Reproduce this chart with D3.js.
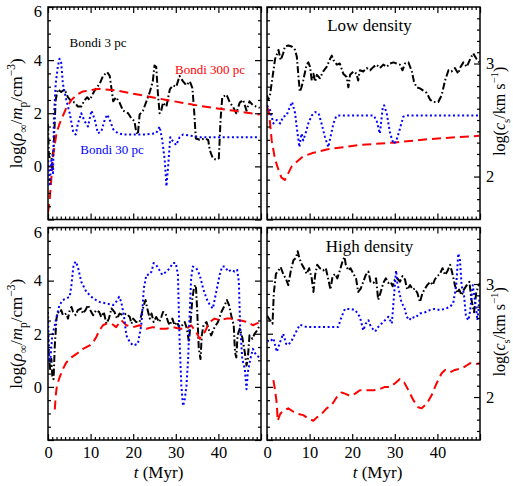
<!DOCTYPE html>
<html><head><meta charset="utf-8">
<script src="https://cdn.jsdelivr.net/npm/d3@7"></script>
<style>
body{margin:0;background:#fff}
svg{display:block}
text{font-family:"Liberation Serif","Times New Roman",serif;fill:#000}
</style>
</head><body>
<svg id="c" width="513" height="486"></svg>
<script>
// ---------------- DATA ----------------
// time (Myr), value pairs. Left panels: log(rho/mp/cm^-3); right panels: log(c_s / km s^-1)
const lowRho3 = [[0,1.6],[0.2,0.4],[0.8,0.25],[1.3,0.6],[1.8,2.5],[2.3,2.9],[3.1,2.8],[3.9,2.9],[4.7,2.6],[5.5,2.45],[6.3,2.4],[7.0,2.25],[7.8,2.25],[8.6,2.5],[9.2,2.6],[9.8,2.5],[10.6,2.75],[11.3,2.95],[12.1,3.1],[12.9,3.4],[13.9,3.55],[14.5,3.4],[15.3,2.45],[16.0,2.6],[16.8,2.4],[17.6,2.1],[18.8,2.0],[19.6,1.8],[20.3,1.7],[20.7,1.3],[21.1,1.2],[21.5,1.95],[22.3,2.1],[23.1,2.45],[23.9,2.8],[24.6,3.2],[25.0,3.8],[25.4,3.75],[25.8,2.75],[26.2,2.0],[26.6,2.1],[27.0,2.4],[27.8,2.25],[28.6,2.9],[29.3,3.05],[30.1,3.0],[30.9,3.4],[31.7,3.2],[32.5,3.05],[33.3,3.2],[33.9,2.95],[34.3,2.1],[34.7,1.05],[35.6,1.0],[36.8,1.05],[37.6,1.0],[38.0,0.6],[38.7,0.3],[39.5,0.25],[40.1,0.3],[40.5,1.75],[40.9,2.6],[41.9,2.7],[42.7,2.4],[43.4,2.25],[44.2,2.0],[45.0,2.4],[45.8,2.5],[46.6,2.1],[47.3,2.45],[48.1,2.3],[48.9,2.25],[49.7,2.2]];
const lowRho300 = [[0,-1.75],[0.4,-1.25],[1.2,0.4],[2.0,1.25],[2.7,1.6],[3.5,1.9],[4.3,2.2],[5.5,2.5],[7.0,2.72],[8.2,2.82],[12.1,2.92],[16.0,2.86],[19.9,2.74],[27.8,2.5],[35.6,2.28],[43.4,2.1],[49.7,1.95]];
const lowRho30 = [[0,0.4],[0.4,-0.75],[0.8,0.25],[1.2,-0.25],[1.4,1.9],[1.8,3.1],[2.3,3.75],[2.7,4.05],[3.1,3.9],[3.5,3.1],[4.3,2.5],[5.1,2.0],[5.9,1.3],[6.5,1.2],[7.0,1.6],[7.8,2.0],[8.6,1.7],[9.4,1.5],[10.2,2.1],[11.0,1.75],[11.7,1.25],[12.5,1.3],[13.3,1.75],[13.9,1.95],[14.5,1.75],[15.3,1.4],[16.4,1.25],[17.6,1.2],[20.0,1.2],[23.1,1.2],[25.4,1.25],[26.2,1.5],[26.8,1.0],[27.4,0.25],[27.8,-0.75],[28.2,0.0],[28.7,1.1],[29.3,0.95],[30.1,0.8],[30.9,1.1],[31.7,1.2],[35.6,1.1],[49.7,1.1]];

const lowCs3 = [[0,2.72],[0.3,2.68],[0.7,2.72],[1.3,2.88],[1.9,3.04],[2.7,3.12],[3.2,3.03],[3.8,3.09],[4.2,3.15],[5.0,3.16],[5.8,3.15],[6.6,3.12],[7.0,3.06],[7.4,2.88],[7.7,2.75],[8.1,2.79],[8.5,2.85],[9.3,2.99],[9.7,3.01],[10.1,2.97],[10.5,2.85],[10.9,2.91],[11.3,2.84],[11.7,2.9],[12.4,2.87],[13.2,2.93],[14.0,2.97],[14.8,3.04],[15.2,3.07],[15.6,3.03],[16.4,2.99],[17.1,3.0],[17.9,2.91],[18.7,2.88],[19.1,2.79],[19.5,2.9],[20.3,2.93],[21.0,2.91],[21.4,2.85],[21.8,2.94],[22.6,2.93],[23.4,2.96],[24.2,2.94],[25.0,2.97],[25.7,2.99],[26.5,2.96],[27.3,2.99],[28.1,2.97],[28.9,3.0],[29.7,3.01],[30.4,3.0],[31.2,2.99],[31.8,2.94],[32.4,3.0],[33.2,3.01],[34.0,2.93],[34.5,2.84],[35.1,2.79],[35.9,2.78],[36.7,2.76],[37.5,2.74],[38.3,2.68],[39.0,2.66],[40.2,2.66],[41.0,2.72],[41.8,2.85],[42.6,2.94],[43.3,2.93],[44.1,2.96],[44.9,2.91],[45.3,2.96],[46.1,3.01],[46.9,2.97],[47.7,3.04],[48.4,3.09],[49.2,3.04],[49.8,3.01]];
const lowCs300 = [[0,2.62],[0.5,2.56],[1.1,2.32],[1.9,2.15],[2.7,2.06],[3.4,1.99],[4.2,1.97],[5.0,2.03],[5.8,2.09],[7.0,2.13],[8.5,2.18],[10.9,2.21],[14.0,2.24],[17.9,2.26],[21.8,2.28],[29.7,2.3],[37.5,2.33],[45.3,2.35],[49.8,2.36]];
const lowCs30 = [[0,2.63],[0.7,2.59],[1.5,2.47],[2.3,2.5],[3.1,2.47],[3.8,2.53],[4.6,2.54],[5.4,2.62],[5.9,2.66],[6.6,2.56],[7.0,2.43],[7.6,2.26],[8.1,2.38],[8.5,2.32],[9.2,2.4],[9.7,2.47],[10.5,2.54],[11.3,2.57],[12.1,2.56],[12.8,2.47],[13.6,2.35],[14.4,2.26],[14.9,2.35],[15.6,2.47],[16.2,2.53],[16.7,2.54],[25.0,2.54],[25.7,2.5],[26.5,2.38],[27.2,2.62],[27.5,2.63],[28.1,2.56],[28.9,2.38],[29.7,2.29],[30.3,2.31],[31.1,2.41],[32.0,2.53],[32.8,2.54],[49.8,2.54]];

const highRho3 = [[0,1.94],[0.2,1.18],[0.5,0.67],[0.8,1.05],[1.0,0.42],[1.3,0.29],[1.6,1.56],[2.0,2.57],[2.3,2.82],[2.7,2.76],[3.1,2.89],[3.5,2.7],[4.3,2.76],[4.7,2.57],[5.1,2.89],[5.5,3.01],[5.9,2.82],[6.5,2.7],[7.0,2.89],[7.8,2.95],[8.2,2.76],[8.8,2.89],[9.4,3.08],[9.9,2.89],[10.6,2.7],[11.3,2.89],[12.0,2.82],[12.5,2.63],[13.1,2.82],[13.7,2.38],[14.3,2.57],[14.9,2.95],[15.6,2.82],[16.2,2.57],[16.8,2.76],[17.6,2.7],[18.4,2.76],[19.2,2.63],[19.6,2.38],[20.0,2.57],[20.7,2.44],[21.5,2.44],[21.9,2.7],[22.5,3.08],[22.9,3.27],[23.3,2.95],[23.9,2.57],[24.3,2.76],[24.8,2.44],[25.4,2.63],[26.1,2.44],[26.6,2.63],[27.0,2.82],[27.6,2.76],[28.2,2.44],[28.6,2.32],[29.2,2.57],[29.7,2.32],[30.3,2.44],[30.9,2.19],[31.5,2.32],[32.1,2.44],[32.6,2.19],[33.1,1.68],[33.4,2.32],[33.9,3.33],[34.3,3.77],[34.7,3.84],[35.0,2.95],[35.4,1.43],[35.8,1.05],[36.1,1.94],[36.5,2.32],[37.2,2.44],[37.8,2.13],[38.3,1.94],[39.1,2.25],[39.9,2.44],[40.7,2.82],[41.5,3.08],[42.0,3.27],[42.5,3.08],[43.0,2.7],[43.6,2.32],[43.9,1.3],[44.2,1.11],[44.5,1.94],[45.0,2.19],[45.6,1.87],[46.2,1.3],[46.6,0.8],[46.9,1.05],[47.3,1.94],[48.0,1.81],[48.5,2.0],[49.1,2.13],[49.7,2.32]];
const highRho300 = [[1.6,-0.85],[1.8,-0.34],[2.1,0.04],[2.7,0.35],[3.5,0.67],[4.3,0.92],[5.5,1.11],[6.7,1.24],[8.2,1.43],[9.8,1.56],[10.6,1.68],[11.3,1.87],[12.1,2.13],[12.9,2.32],[13.7,2.38],[14.9,2.38],[16.0,2.25],[17.2,2.51],[18.4,2.32],[20.0,2.25],[21.5,2.32],[23.1,2.19],[24.6,2.25],[26.2,2.19],[27.8,2.19],[29.3,2.25],[30.9,2.19],[32.5,2.19],[33.6,2.32],[34.8,2.06],[35.6,1.81],[36.8,2.06],[37.9,2.44],[39.1,2.57],[40.3,2.51],[41.9,2.57],[43.4,2.57],[45.0,2.51],[46.9,2.44],[48.1,2.32],[49.7,2.44]];
const highRho30 = [[0,2.82],[0.2,1.3],[0.5,0.92],[1.0,1.94],[1.6,2.32],[2.1,2.7],[2.7,3.08],[3.5,3.27],[4.3,3.33],[5.1,3.39],[5.5,3.84],[6.0,4.59],[6.5,4.72],[7.0,4.53],[7.8,3.96],[9.0,3.58],[10.6,3.33],[12.1,3.2],[13.7,3.14],[15.3,3.08],[16.0,3.2],[16.7,3.39],[17.2,3.2],[17.8,2.7],[18.4,1.94],[19.2,1.68],[20.0,1.56],[21.1,1.62],[21.9,2.32],[22.5,3.71],[23.1,4.22],[23.7,4.22],[24.3,4.34],[24.8,4.66],[25.4,4.59],[26.1,4.41],[26.8,4.22],[27.8,4.34],[28.6,4.47],[29.3,4.66],[30.0,4.66],[30.5,4.22],[30.9,1.68],[31.3,0.04],[31.7,-0.72],[32.1,-0.47],[32.5,0.04],[32.9,1.05],[33.3,2.95],[33.6,4.09],[34.0,4.53],[34.8,4.47],[35.6,4.22],[36.4,3.71],[37.2,3.33],[38.0,3.08],[38.7,2.95],[39.5,3.58],[40.3,4.22],[40.9,4.53],[41.5,4.53],[42.3,4.34],[43.0,4.41],[43.8,4.34],[44.4,4.41],[44.8,3.96],[45.1,2.32],[45.6,1.05],[46.2,0.67],[46.6,-0.09],[46.9,0.54],[47.5,1.05],[48.1,1.43],[48.9,1.18],[49.7,1.11]];

const highCs3 = [[0,2.72],[0.7,2.68],[1.3,2.65],[1.6,2.92],[2.1,3.09],[2.7,3.12],[3.2,3.15],[3.8,3.09],[4.5,3.04],[5.0,2.99],[5.6,3.12],[6.2,3.21],[6.8,3.23],[7.2,3.29],[7.6,3.23],[8.1,3.18],[8.7,3.14],[9.3,3.09],[9.9,3.14],[10.5,3.05],[10.9,2.93],[11.3,3.08],[11.8,3.17],[12.4,3.14],[13.2,3.12],[13.8,3.14],[14.4,3.04],[14.9,2.95],[15.4,3.07],[16.0,3.09],[16.5,3.05],[17.1,3.12],[17.8,3.21],[18.2,3.24],[18.5,3.17],[19.1,3.12],[19.6,3.14],[20.3,3.09],[20.9,3.05],[21.4,2.93],[22.0,2.96],[22.6,3.02],[23.2,3.08],[23.8,3.11],[24.3,3.02],[25.0,3.01],[25.6,3.05],[26.1,2.86],[26.7,2.93],[27.3,3.01],[27.9,3.05],[28.5,3.01],[29.0,3.02],[29.5,2.98],[30.0,3.04],[30.6,3.05],[31.2,3.02],[31.8,3.07],[32.4,3.04],[32.9,2.95],[33.6,2.99],[34.2,2.95],[34.7,2.96],[35.3,2.92],[35.9,2.84],[36.5,2.92],[37.1,2.96],[37.6,2.99],[38.3,3.02],[38.9,2.99],[39.4,3.04],[40.0,3.07],[40.6,3.09],[41.2,3.14],[41.8,3.08],[42.3,3.11],[43.0,3.17],[43.6,3.08],[44.1,2.99],[44.7,2.92],[45.1,2.95],[45.7,2.9],[46.2,2.95],[46.9,2.99],[47.5,3.02],[48.0,2.86],[48.6,2.75],[49.1,2.92],[49.6,2.98],[50.0,3.01]];
const highCs300 = [[1.5,2.15],[1.9,2.06],[2.3,1.94],[2.5,1.79],[3.1,1.85],[3.8,1.88],[5.0,1.9],[6.2,1.87],[7.4,1.85],[8.5,1.84],[9.7,1.81],[10.9,1.79],[11.7,1.82],[12.8,1.85],[14.0,1.9],[15.2,1.93],[16.4,2.0],[17.5,2.04],[18.3,2.03],[19.5,2.01],[20.7,2.03],[21.8,2.06],[23.4,2.06],[25.0,2.06],[26.5,2.07],[27.7,2.09],[28.9,2.09],[30.0,2.12],[31.2,2.16],[32.2,2.13],[33.2,2.06],[34.4,1.97],[35.5,1.91],[36.3,1.9],[37.5,1.94],[38.7,2.02],[39.8,2.12],[41.0,2.21],[41.8,2.24],[43.0,2.22],[44.1,2.24],[45.3,2.25],[46.5,2.27],[47.7,2.3],[48.8,2.29],[50.0,2.3]];
const highCs30 = [[0,2.5],[0.7,2.49],[1.5,2.52],[2.3,2.4],[3.1,2.49],[3.8,2.56],[4.5,2.47],[5.0,2.46],[5.8,2.5],[6.6,2.56],[7.7,2.64],[9.3,2.62],[14.0,2.62],[16.7,2.62],[17.5,2.71],[18.3,2.78],[19.5,2.78],[20.7,2.77],[21.8,2.71],[22.6,2.59],[23.2,2.65],[23.8,2.68],[24.4,2.62],[25.4,2.58],[26.1,2.62],[26.9,2.65],[27.7,2.68],[28.5,2.71],[29.3,2.65],[29.8,2.89],[30.3,3.12],[30.6,3.01],[31.1,2.92],[31.6,2.83],[32.2,2.8],[32.8,2.71],[33.4,2.68],[34.0,2.71],[34.7,2.7],[35.9,2.74],[37.1,2.75],[38.3,2.77],[39.4,2.78],[40.6,2.77],[41.8,2.78],[43.0,2.8],[43.7,2.83],[44.4,2.98],[44.9,3.27],[45.3,3.21],[45.7,2.98],[46.2,2.92],[46.7,2.71],[47.3,2.68],[47.7,2.77],[48.3,2.99],[48.8,2.86],[49.4,2.68],[50.0,2.92]];

const xTickLabels = [0, 10, 20, 30, 40];
const rhoTickLabels = [0, 2, 4, 6];
const csTickLabels = [2, 3];
const seriesNames = ["Bondi 3 pc", "Bondi 300 pc", "Bondi 30 pc"];
const panelTitles = ["Low density", "High density"];

// ---------------- LAYOUT ----------------
const svg = d3.select("#c");
const PW = 213, PH = 212.5;
const colsX = [48, 267], rowsY = [7, 227.5];
const styles = {
  black: {stroke:"#000", dash:"7,2.5,1.6,2.5"},
  red:   {stroke:"#ff0000", dash:"9,5"},
  blue:  {stroke:"#0000ff", dash:"2,2.6"}
};
const panels = [
  {c:0,r:0,right:false,series:[[lowRho3,"black"],[lowRho300,"red"],[lowRho30,"blue"]]},
  {c:1,r:0,right:true, series:[[lowCs3,"black"],[lowCs300,"red"],[lowCs30,"blue"]]},
  {c:0,r:1,right:false,series:[[highRho3,"black"],[highRho300,"red"],[highRho30,"blue"]]},
  {c:1,r:1,right:true, series:[[highCs3,"black"],[highCs300,"red"],[highCs30,"blue"]]}
];

function richText(sel, parts, size){
  let shift = 0;
  parts.forEach(p=>{
    const ts = sel.append("tspan").text(p.t);
    let target = p.sub ? 0.3*size : (p.sup ? -0.42*size : 0);
    ts.attr("dy", target - shift); shift = target;
    if (p.sub || p.sup) ts.attr("font-size", size*0.68);
    if (p.i) ts.attr("font-style","italic");
  });
}

panels.forEach((p,k)=>{
  const x0 = colsX[p.c], y0 = rowsY[p.r];
  const g = svg.append("g").attr("transform",`translate(${x0},${y0})`);
  const x = d3.scaleLinear().domain([0,50]).range([0,PW]);
  const yL = d3.scaleLinear().domain([-2,6]).range([PH,0]);
  const yR = d3.scaleLinear().domain([1.62,3.5]).range([PH,0]);
  const yData = p.right ? yR : yL;

  const cid = "clip"+k;
  g.append("clipPath").attr("id",cid).append("rect").attr("width",PW).attr("height",PH);
  const plot = g.append("g").attr("clip-path",`url(#${cid})`);
  const line = d3.line().x(d=>x(d[0])).y(d=>yData(d[1]));
  p.series.forEach(([data,st])=>{
    plot.append("path").datum(data).attr("d",line)
      .attr("fill","none").attr("stroke",styles[st].stroke)
      .attr("stroke-width",2).attr("stroke-dasharray",styles[st].dash)
      .attr("stroke-linejoin","round");
  });

  // ticks (inward)
  const xMinor = d3.range(0,51,1).filter(v=>v%10!==0);
  const xMajor = d3.range(0,51,10);
  const yMinorL = d3.range(-2,6.01,0.5).filter(v=>v%2!==0);
  const yMajorL = d3.range(-2,6.01,2);
  const yMinorR = d3.range(1.7,3.5,0.1).map(v=>+v.toFixed(1)).filter(v=>v!==2&&v!==3);
  const ax = (gen, sc, vals, len, fmt) => gen(sc).tickValues(vals).tickSizeInner(-len).tickSizeOuter(0).tickPadding(fmt?6:0).tickFormat(fmt||(()=>""));

  const bottomG = g.append("g").attr("transform",`translate(0,${PH})`);
  bottomG.call(ax(d3.axisBottom,x,xMinor,3));
  bottomG.append("g").call(ax(d3.axisBottom,x,xMajor,6, p.r===1 ? (d=>xTickLabels.includes(d)?d:"") : null));
  const topG = g.append("g");
  topG.call(ax(d3.axisTop,x,xMinor,3));
  topG.append("g").call(ax(d3.axisTop,x,xMajor,6));

  const leftG = g.append("g");
  leftG.call(ax(d3.axisLeft,yL,yMinorL,3));
  leftG.append("g").call(ax(d3.axisLeft,yL,yMajorL,6, !p.right ? (d=>rhoTickLabels.includes(d)?d:"") : null));

  const rightG = g.append("g").attr("transform",`translate(${PW},0)`);
  if (p.right){
    rightG.call(ax(d3.axisRight,yR,yMinorR,3));
    rightG.append("g").call(ax(d3.axisRight,yR,csTickLabels,6,d=>d));
  } else {
    rightG.call(ax(d3.axisRight,yL,yMinorL,3));
    rightG.append("g").call(ax(d3.axisRight,yL,yMajorL,6));
  }
  g.selectAll(".domain").remove();
  g.selectAll(".tick line").attr("stroke","#000").attr("stroke-width",1.2);
  g.selectAll(".tick text").attr("font-family","'Liberation Serif',serif").attr("font-size",16.5).attr("fill","#000");
  // the top label sits a little below its tick, as in the reference
  leftG.selectAll(".tick text").filter(d=>d===6).attr("dy","0.58em");

  g.append("rect").attr("width",PW).attr("height",PH).attr("fill","none").attr("stroke","#000").attr("stroke-width",1.5);

  // axis titles
  if (!p.right){
    const t = svg.append("text").attr("transform",`translate(22,${y0+PH/2}) rotate(-90)`)
      .attr("text-anchor","middle").attr("font-size",17);
    richText(t,[{t:"log("},{t:"ρ",i:true},{t:"∞",sub:true},{t:"/"},{t:"m",i:true},{t:"p",sub:true},{t:"/cm"},{t:"−3",sup:true},{t:")"}],17);
  } else {
    const t = svg.append("text").attr("transform",`translate(505,${y0+PH/2-2}) rotate(-90)`)
      .attr("text-anchor","middle").attr("font-size",16);
    richText(t,[{t:"log("},{t:"c",i:true},{t:"s",sub:true},{t:"/km s"},{t:"−1",sup:true},{t:")"}],16);
    svg.append("text").attr("x",x0+PW/2-4).attr("y",y0+24).attr("text-anchor","middle")
      .attr("font-size",17).text(panelTitles[p.r]);
  }
  if (p.r===1){
    const t = svg.append("text").attr("x",x0+PW/2+4).attr("y",478).attr("text-anchor","middle").attr("font-size",17);
    richText(t,[{t:"t",i:true},{t:"  (Myr)"}],17);
  }
});

// series labels (top-left panel)
svg.append("text").attr("x",98).attr("y",47).attr("text-anchor","middle").attr("font-size",13).attr("fill","#000").text(seriesNames[0]);
svg.append("text").attr("x",210).attr("y",74).attr("text-anchor","middle").attr("font-size",13).style("fill","#ff0000").text(seriesNames[1]);
svg.append("text").attr("x",112).attr("y",154).attr("text-anchor","middle").attr("font-size",13).style("fill","#0000ff").text(seriesNames[2]);
</script>
</body></html>
